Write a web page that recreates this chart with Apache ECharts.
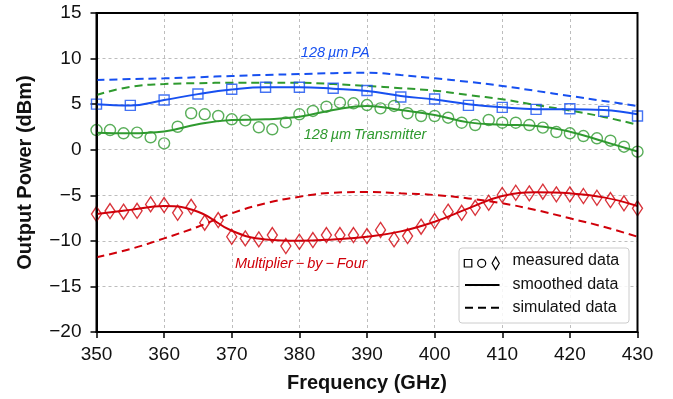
<!DOCTYPE html>
<html><head><meta charset="utf-8">
<script src="https://cdn.jsdelivr.net/npm/echarts@6/dist/echarts.min.js"></script>
<style>html,body{margin:0;padding:0;background:#fff}#c{width:673px;height:399px}</style>
</head><body><div id="c"></div>
<script>
// Frequencies (GHz)
const freq5 = [350,355,360,365,370,375,380,385,390,395,400,405,410,415,420,425,430];
const freq2 = [350,352,354,356,358,360,362,364,366,368,370,372,374,376,378,380,382,384,386,388,390,392,394,396,398,400,402,404,406,408,410,412,414,416,418,420,422,424,426,428,430];
const xTicks = [350,360,370,380,390,400,410,420,430];
const yTicks = [-20,-15,-10,-5,0,5,10,15];

// 128 um PA
const paMeasured = [5.0,4.87,5.46,6.12,6.64,6.86,6.86,6.75,6.49,5.78,5.57,4.87,4.65,4.43,4.5,4.21,3.7];
const paSmoothed = [5.0,4.85,5.45,6.1,6.6,6.85,6.85,6.7,6.45,5.9,5.5,5.0,4.65,4.45,4.45,4.35,3.9];
const paSimulated = [7.64,7.75,7.83,7.95,8.09,8.2,8.3,8.4,8.45,8.2,7.83,7.45,7.0,6.45,5.9,5.35,4.8];

// 128 um Transmitter
const txMeasured = [2.16,2.16,1.8,1.87,1.36,0.7,2.52,4.0,3.89,3.7,3.34,3.22,2.46,2.24,3.0,3.89,4.25,4.72,5.16,5.09,4.9,4.54,
                    4.8,4.0,3.7,3.7,3.51,2.96,2.71,3.26,2.96,2.96,2.71,2.42,1.94,1.8,1.5,1.25,0.99,0.33,-0.22];
const txSmoothed = [1.87,1.8,2.0,2.8,3.26,3.34,3.62,4.36,4.8,4.35,3.8,3.0,2.75,2.6,1.98,0.9,-0.2];
const txSimulated = [6.0,6.9,7.2,7.3,7.35,7.35,7.35,7.2,7.0,6.75,6.48,6.0,5.53,4.9,4.3,3.6,2.74];

// Multiplier-by-Four
const mulMeasured = [-7.06,-6.73,-6.8,-6.7,-6.0,-6.07,-6.92,-6.26,-8.01,-7.72,-9.55,-9.73,-9.84,-9.36,-10.57,-10.1,-9.91,-9.36,-9.36,-9.36,-9.47,-8.8,
                     -9.84,-9.47,-8.45,-7.83,-6.8,-6.92,-6.37,-5.82,-4.97,-4.72,-4.79,-4.61,-4.9,-4.9,-5.08,-5.27,-5.52,-5.88,-6.43];
const mulSmoothed = [-7.06,-6.6,-6.18,-6.8,-8.89,-9.84,-9.98,-9.84,-9.55,-8.96,-7.9,-6.43,-5.08,-4.68,-4.79,-5.23,-6.18];
const mulSimulated = [-11.8,-10.9,-9.73,-8.45,-6.98,-5.88,-5.16,-4.72,-4.64,-4.79,-4.97,-5.34,-5.88,-6.62,-7.53,-8.45,-9.55];

const labels = [
  {text:'128\u2009\u00b5m\u2009PA', x:385.3, y:10.6, color:'#1750f0'},
  {text:'128\u2009\u00b5m\u2009Transmitter', x:389.7, y:1.6, color:'#2f9a2f'},
  {text:'Multiplier\u2009\u2212\u2009by\u2009\u2212\u2009Four', x:380.2, y:-12.5, color:'#d0000a'}
];

const BLUE='#1750f0', GREEN='#2f9a2f', RED='#d0000a';
const zip = (xs, ys) => xs.map((x,i)=>[x, ys[i]]);
const fmtMinus = v => String(v).replace('-', '\u2212');

function lineSeries(name, xs, ys, color, dashed){
  return {name, type:'line', data:zip(xs,ys), smooth:0.45, showSymbol:false, silent:true,
    lineStyle:{color, width:2, type: dashed ? [8,5] : 'solid'}, z:2};
}
function scatterSeries(name, xs, ys, color, symbol, size){
  return {name, type:'scatter', data:zip(xs,ys), symbol, symbolSize:size, silent:true,
    itemStyle:{color:'rgba(255,255,255,0)', borderColor:color, borderWidth:1.4}, z:3};
}

const chart = echarts.init(document.getElementById('c'), null, {renderer:'canvas'});
const axisFont = {fontFamily:'Liberation Sans, Arial, sans-serif', fontSize:19, color:'#111'};
chart.setOption({
  animation:false,
  grid:{left:96.5, right:35.5, top:13, bottom:67},
  xAxis:{type:'value', min:350, max:430, interval:10,
    name:'Frequency (GHz)', nameLocation:'middle', nameGap:41,
    nameTextStyle:{fontFamily:'Liberation Sans, Arial, sans-serif', fontSize:20, fontWeight:'bold', color:'#111'},
    axisLine:{show:true, onZero:false, lineStyle:{color:'#000', width:2}},
    axisTick:{show:true, length:6, lineStyle:{color:'#000', width:1.5}},
    axisLabel:Object.assign({margin:13, formatter:v=>xTicks.includes(v)?fmtMinus(v):''}, axisFont),
    splitLine:{show:true, lineStyle:{color:'#bdbdbd', width:1, type:[3,3]}}
  },
  yAxis:{type:'value', min:-20, max:15, interval:5,
    name:'Output Power (dBm)', nameLocation:'middle', nameGap:61,
    nameTextStyle:{fontFamily:'Liberation Sans, Arial, sans-serif', fontSize:20, fontWeight:'bold', color:'#111'},
    axisLine:{show:true, onZero:false, lineStyle:{color:'#000', width:2}},
    axisTick:{show:true, length:6, lineStyle:{color:'#000', width:1.5}},
    axisLabel:Object.assign({margin:15, formatter:v=>yTicks.includes(v)?fmtMinus(v):''}, axisFont),
    splitLine:{show:true, lineStyle:{color:'#bdbdbd', width:1, type:[3,3]}}
  },
  series:[
    lineSeries('PA simulated', freq5, paSimulated, BLUE, true),
    lineSeries('Transmitter simulated', freq5, txSimulated, GREEN, true),
    lineSeries('Multiplier simulated', freq5, mulSimulated, RED, true),
    lineSeries('PA smoothed', freq5, paSmoothed, BLUE, false),
    lineSeries('Transmitter smoothed', freq5, txSmoothed, GREEN, false),
    lineSeries('Multiplier smoothed', freq5, mulSmoothed, RED, false),
    scatterSeries('PA measured', freq5, paMeasured, BLUE, 'rect', 10),
    scatterSeries('Transmitter measured', freq2, txMeasured, GREEN, 'circle', 11),
    scatterSeries('Multiplier measured', freq2, mulMeasured, RED, 'diamond', [10,15])
  ]
});

const g = [];
labels.forEach(l=>{
  const p = chart.convertToPixel({gridIndex:0}, [l.x, l.y]);
  g.push({type:'text', x:p[0], y:p[1], z:10, style:{text:l.text, fill:l.color, align:'center', verticalAlign:'middle',
    font:'italic 14.5px "Liberation Sans", Arial, sans-serif'}});
});
// plot frame (top and right edges)
const p0 = chart.convertToPixel({gridIndex:0}, [350, 15]);
const p1 = chart.convertToPixel({gridIndex:0}, [430, -20]);
g.push({type:'rect', z:20, silent:true, shape:{x:p0[0], y:p0[1], width:p1[0]-p0[0], height:p1[1]-p0[1]},
  style:{fill:'none', stroke:'#000', lineWidth:2}});
// legend box
const lx=459, ly=248, lw=170, lh=75;
const lf = '16px "Liberation Sans", Arial, sans-serif';
g.push({type:'rect', z:10, shape:{x:lx, y:ly, width:lw, height:lh, r:3}, style:{fill:'rgba(255,255,255,0.85)', stroke:'#cccccc', lineWidth:1}});
g.push({type:'rect', z:11, shape:{x:464.3, y:259.5, width:7.5, height:7.5}, style:{fill:'none', stroke:'#000', lineWidth:1.2}});
g.push({type:'circle', z:11, shape:{cx:481.7, cy:263.3, r:4}, style:{fill:'none', stroke:'#000', lineWidth:1.2}});
g.push({type:'polygon', z:11, shape:{points:[[495.7,257],[499.3,263.3],[495.7,269.5],[492.1,263.3]]}, style:{fill:'none', stroke:'#000', lineWidth:1.2}});
g.push({type:'line', z:11, shape:{x1:465, y1:285, x2:499.5, y2:285}, style:{stroke:'#000', lineWidth:2}});
g.push({type:'line', z:11, shape:{x1:465, y1:307.7, x2:499.5, y2:307.7}, style:{stroke:'#000', lineWidth:2, lineDash:[8,5]}});
[['measured data',261],['smoothed data',285],['simulated data',307.7]].forEach(t=>{
  g.push({type:'text', z:11, x:512.5, y:t[1], style:{text:t[0], fill:'#111', font:lf, verticalAlign:'middle', align:'left'}});
});
chart.setOption({graphic:g});
</script></body></html>
